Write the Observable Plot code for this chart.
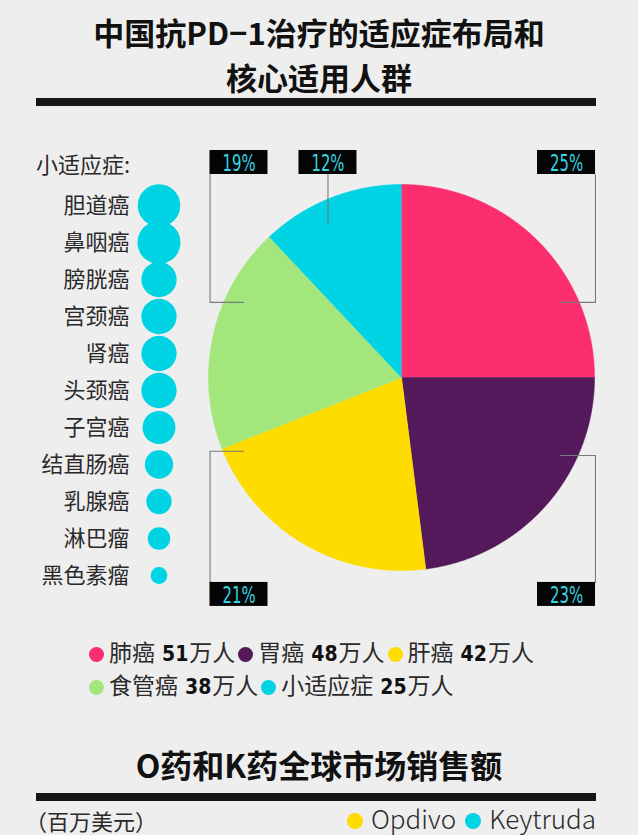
<!DOCTYPE html>
<html><head><meta charset="utf-8">
<script src="https://cdn.jsdelivr.net/npm/d3@7"></script>
<script src="https://cdn.jsdelivr.net/npm/@observablehq/plot@0.6"></script>
<style>
html,body{margin:0;padding:0;background:#efeeee;}
body{width:638px;height:835px;position:relative;overflow:hidden;font-family:"Noto Sans CJK SC","Noto Sans",sans-serif;color:#2a2a2a;}
.title{position:absolute;left:0;width:638px;height:38px;text-align:center;font-weight:700;font-size:32px;line-height:38px;color:#111;}
.title.top{font-size:31px;}
.rule{position:absolute;left:36px;width:560px;height:8px;background:#161616;}
#minorHead{position:absolute;left:36px;top:149px;font-size:22px;line-height:28px;color:#2a2a2a;}
#minor{position:absolute;left:0;top:140px;}
#pie{position:absolute;left:200px;top:140px;}
#pie text{font-stretch:condensed;}
#legend{position:absolute;left:89px;top:636px;width:462px;font-size:23px;line-height:30px;color:#2a2a2a;}
#legend .item{display:inline-block;white-space:nowrap;margin-right:3px;}
#legend i{display:inline-block;width:15px;height:15px;border-radius:50%;margin-right:5px;vertical-align:-1px;}
#legend b{font-family:"DejaVu Sans","Noto Sans",sans-serif;font-stretch:condensed;font-weight:700;font-size:21px;color:#111;margin:0 1px 0 7px;}
#unit{position:absolute;left:25px;top:806px;font-size:22px;line-height:28px;color:#2a2a2a;}
#sales{position:absolute;right:42px;top:803px;font-size:26px;line-height:30px;color:#2a2a2a;font-weight:300;}
#sales i{display:inline-block;width:16px;height:16px;border-radius:50%;margin:0 8px 0 9px;vertical-align:0px;}
</style></head>
<body>
<div class="title top" style="top:13px">中国抗PD−1治疗的适应症布局和</div>
<div class="title top" style="top:58px">核心适用人群</div>
<div class="rule" style="top:98px"></div>
<div id="minorHead">小适应症:</div>
<div id="minor"></div>
<div id="pie"></div>
<div id="legend"></div>
<div class="title" style="top:745px">O药和K药全球市场销售额</div>
<div class="rule" style="top:793px"></div>
<div id="unit">（百万美元）</div>
<div id="sales"></div>
<script>
// ---- data ----
const shareCats = ["肺癌", "胃癌", "肝癌", "食管癌", "小适应症"];
const patients = [51, 48, 42, 38, 25];          // 万人
const sharePct = [25, 23, 21, 19, 12];          // %
const minorCats = ["胆道癌", "鼻咽癌", "膀胱癌", "宫颈癌", "肾癌", "头颈癌", "子宫癌", "结直肠癌", "乳腺癌", "淋巴瘤", "黑色素瘤"];
const minorSize = [45, 46, 31, 31, 31, 31, 27, 20, 16, 12.5, 7]; // relative bubble size
const salesSeries = ["Opdivo", "Keytruda"];

// ---- styles ----
const colors = ["#fc2d6f", "#54195b", "#fedc00", "#a2e67c", "#00d3e4"];
const salesColors = ["#fedc00", "#00d3e4"];
const cjk = "'Noto Sans CJK SC','Noto Sans',sans-serif";
const narrow = "'DejaVu Sans','Noto Sans',sans-serif";

// ---- minor indications bubbles ----
document.getElementById("minor").appendChild(Plot.plot({
  width: 200, height: 460,
  marginLeft: 117, marginRight: 0, marginTop: 0, marginBottom: 0,
  style: {background: "transparent", overflow: "visible"},
  y: {type: "point", domain: minorCats, range: [63, 437], padding: 0, axis: null},
  r: {type: "sqrt", domain: [0, d3.max(minorSize)], range: [0, 21.5]},
  marks: [
    Plot.dot(minorCats, {y: d => d, r: (d, i) => minorSize[i], fill: "#00d3e4", stroke: "none"}),
    Plot.text(minorCats, {y: d => d, text: d => d, frameAnchor: "left", textAnchor: "end", dx: 12,
      fontSize: 22, fill: "#2a2a2a", fontFamily: cjk})
  ]
}));

// ---- pie ----
const arcs = d3.pie().sort(null)(sharePct);
const slices = [];
arcs.forEach((a, i) => {
  const n = Math.max(2, Math.ceil((a.endAngle - a.startAngle) / 0.004));
  slices.push({k: shareCats[i], x: 0, y: 0});
  for (let j = 0; j <= n; j++) {
    const t = a.startAngle + (a.endAngle - a.startAngle) * j / n;
    slices.push({k: shareCats[i], x: Math.sin(t), y: Math.cos(t)});
  }
});

// callout layout (unit = pie radius)
const callouts = [
  {i: 0, bx: 0.855, by: 1.114, path: [[1.005, 1.052], [1.005, 0.389], [0.824, 0.389]]},
  {i: 1, bx: 0.855, by: -1.124, path: [[0.824, -0.404], [1.005, -0.404], [1.005, -1.062]]},
  {i: 2, bx: -0.842, by: -1.124, path: [[-0.819, -0.382], [-0.992, -0.382], [-0.992, -1.062]]},
  {i: 3, bx: -0.842, by: 1.114, path: [[-0.992, 1.052], [-0.992, 0.389], [-0.819, 0.389]]},
  {i: 4, bx: -0.381, by: 1.114, path: [[-0.381, 1.052], [-0.381, 0.798]]}
];
const leaders = callouts.flatMap(c => c.path.map(([x, y]) => ({k: shareCats[c.i], x, y})));

const pie = Plot.plot({
  width: 438, height: 480, margin: 0,
  style: {background: "transparent", overflow: "visible"},
  x: {domain: [-1, 1], range: [8, 394], axis: null},
  y: {domain: [-1, 1], range: [430, 44], axis: null},
  color: {domain: shareCats, range: colors},
  marks: [
    Plot.line(slices, {x: "x", y: "y", z: "k", fill: "k", stroke: "k", strokeWidth: 0.6}),
    Plot.line(leaders, {x: "x", y: "y", z: "k", stroke: "#7a7a7a", strokeWidth: 1.1}),
    Plot.rect(callouts, {x1: "bx", x2: "bx", y1: "by", y2: "by",
      insetLeft: -29, insetRight: -29, insetTop: -12, insetBottom: -12, fill: "#050505"}),
    Plot.text(callouts, {x: "bx", y: "by", text: c => sharePct[c.i] + "%", fill: "#34d6e2",
      fontSize: 23, fontFamily: narrow, dy: 1})
  ]
});
// narrow the percent glyphs like the condensed face of the original
pie.querySelectorAll("text").forEach(t => {
  t.setAttribute("textLength", "33");
  t.setAttribute("lengthAdjust", "spacingAndGlyphs");
});
document.getElementById("pie").appendChild(pie);

// ---- legend ----
const leg = document.getElementById("legend");
shareCats.forEach((c, i) => {
  const s = document.createElement("span");
  s.className = "item";
  s.innerHTML = `<i style="background:${colors[i]}"></i>${c}<b>${patients[i]}</b>万人`;
  leg.appendChild(s);
});

const sales = document.getElementById("sales");
salesSeries.forEach((c, i) => {
  const s = document.createElement("span");
  s.innerHTML = `<i style="background:${salesColors[i]}"></i>${c}`;
  sales.appendChild(s);
});
</script>
</body></html>
